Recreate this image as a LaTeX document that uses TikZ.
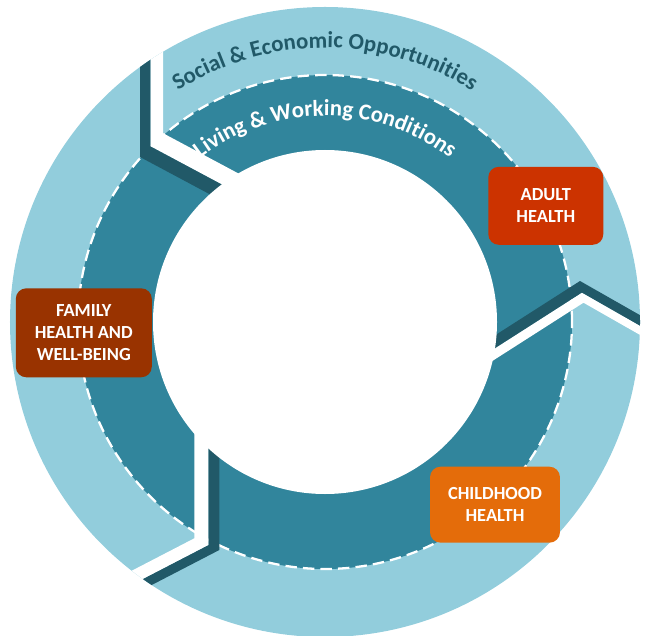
\documentclass[tikz,border=0pt]{standalone}
\usepackage{fontspec}
\setmainfont{Carlito}
\usetikzlibrary{decorations.text}

\definecolor{ringlight}{HTML}{92CDDC}
\definecolor{ringdark}{HTML}{31859C}
\definecolor{ringshade}{HTML}{215968}
\definecolor{adultred}{HTML}{CC3300}
\definecolor{childorange}{HTML}{E46C0A}
\definecolor{familybrown}{HTML}{993300}

\begin{document}
\begin{tikzpicture}[
  x=0.02cm, y=0.02cm,
  stage/.style={rectangle,rounded corners=6pt,text=white,align=center,inner sep=0pt,
                font=\fontsize{10.5}{12.4}\selectfont\bfseries},
  band/.style={fill=ringshade},
  gap/.style={fill=white},
  ringtext/.style={decorate,decoration={text along path,text align=center,text color=#1}}
]
  \useasboundingbox (-325,-313) rectangle (326,322);

  % rings
  \fill[ringlight] (0,0) circle[radius=315];
  \fill[ringdark]  (0,0) circle[radius=247];
  \draw[white,line width=1.3pt,dash pattern=on 6.5pt off 3.5pt] (0,0) circle[radius=247];

  % chevron cuts: vertex, outer arm, inner arm, tangent, band and gap depth
  \begin{scope}
    \clip (0,0) circle[radius=315];
    \foreach \vx/\vy/\ox/\oy/\ix/\iy/\tx/\ty/\ta/\tb in {
        -185/165/0/1/0.88/-0.47/0.70/0.72/15/33,
        255/41/0.869/-0.495/-0.843/-0.539/0.158/-0.987/12/22,
        -105.7/-228/-0.888/-0.46/0/1/-0.906/0.423/12/27.6}
    {
      \fill[band] (\vx+150*\ox,\vy+150*\oy) -- (\vx,\vy) -- (\vx+150*\ix,\vy+150*\iy)
        -- (\vx+\ta*\tx+150*\ix,\vy+\ta*\ty+150*\iy) -- (\vx+\ta*\tx,\vy+\ta*\ty)
        -- (\vx+\ta*\tx+150*\ox,\vy+\ta*\ty+150*\oy) -- cycle;
      \fill[gap] (\vx+\ta*\tx+150*\ox,\vy+\ta*\ty+150*\oy) -- (\vx+\ta*\tx,\vy+\ta*\ty)
        -- (\vx+\ta*\tx+150*\ix,\vy+\ta*\ty+150*\iy)
        -- (\vx+\tb*\tx+150*\ix,\vy+\tb*\ty+150*\iy) -- (\vx+\tb*\tx,\vy+\tb*\ty)
        -- (\vx+\tb*\tx+150*\ox,\vy+\tb*\ty+150*\oy) -- cycle;
    }
  \end{scope}
  \fill[white] (0,0) circle[radius=172];

  % ring labels
  \path[ringtext=ringshade,decoration={text={|\fontsize{13}{15}\selectfont\bfseries|Social {\&} Economic Opportunities}}]
    (160:274) arc[start angle=160,end angle=20,radius=274];
  \path[ringtext=white,decoration={text={|\fontsize{13}{15}\selectfont\bfseries|Living {\&} Working Conditions}}]
    (160:206) arc[start angle=160,end angle=20,radius=206];

  % life stages
  \node[stage,fill=adultred,minimum width=2.3cm,minimum height=1.56cm] (adult) at (220.8,116.2) {ADULT\\HEALTH};
  \node[stage,fill=childorange,minimum width=2.6cm,minimum height=1.52cm] (child) at (170,-182.7) {CHILDHOOD\\HEALTH};
  \node[stage,fill=familybrown,minimum width=2.72cm,minimum height=1.78cm] (family) at (-241.2,-10.8) {FAMILY\\HEALTH AND\\WELL-BEING};
\end{tikzpicture}
\end{document}
